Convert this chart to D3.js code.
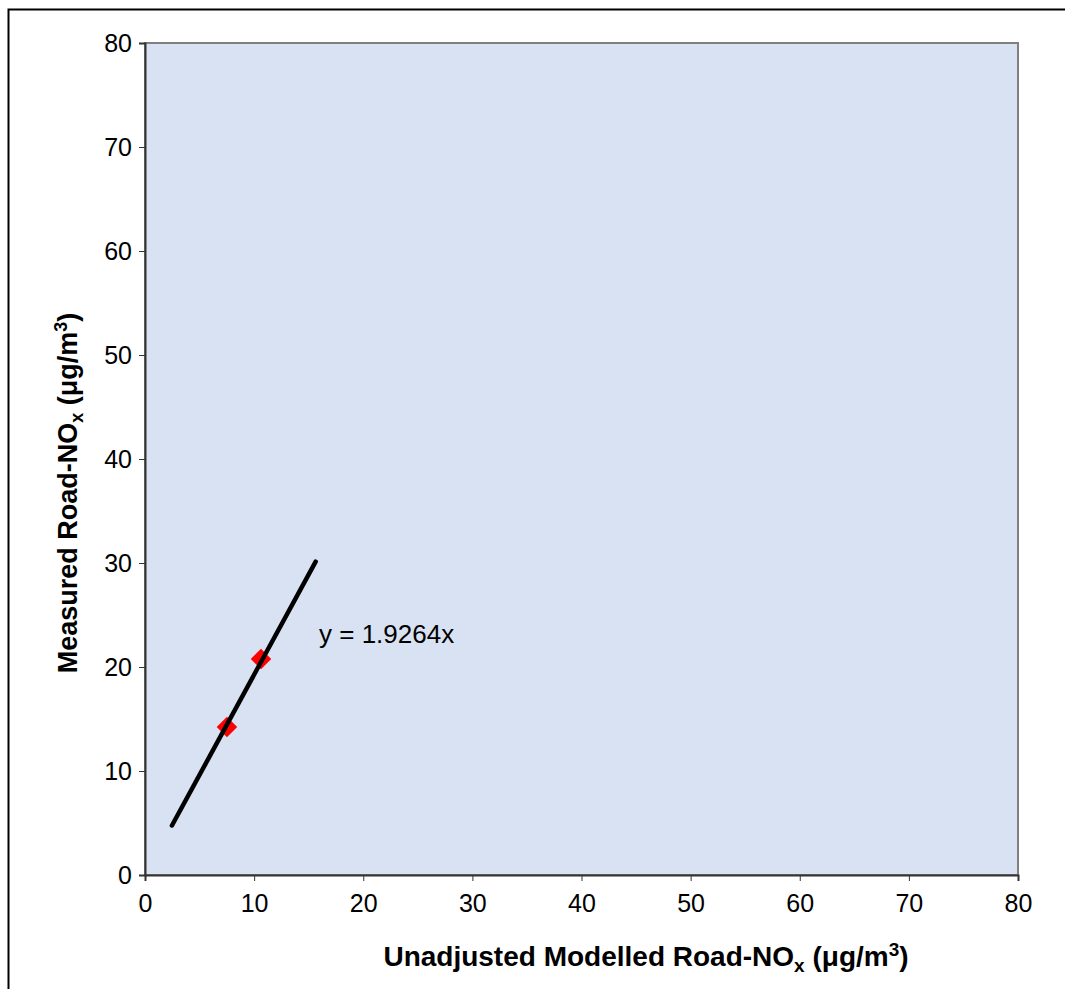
<!DOCTYPE html>
<meta charset="utf-8">
<head>
  <script src="https://d3js.org/d3.v7.min.js"></script>
  <style>
    body { margin: 0; background: #fff; }
    text { font-family: Arial, "Liberation Sans", sans-serif; fill: #000; }
  </style>
</head>
<body>
<div id="my_dataviz"></div>
<script>
// data
var xTicks = [0, 10, 20, 30, 40, 50, 60, 70, 80];
var yTicks = [0, 10, 20, 30, 40, 50, 60, 70, 80];
var measX = [7.51, 10.63];
var measY = [14.23, 20.77];
var slope = 1.9264;
var trendX = [2.47, 15.64];

var margin = {top: 43, left: 145},
    width = 873,
    height = 832;

var svg = d3.select("#my_dataviz")
  .append("svg")
    .attr("width", 1065)
    .attr("height", 989);

// outer chart border
svg.append("rect")
  .attr("x", 8.5).attr("y", 9.5)
  .attr("width", 1070).attr("height", 1000)
  .attr("fill", "none").attr("stroke", "#000").attr("stroke-width", 2);

var g = svg.append("g")
  .attr("transform", "translate(" + margin.left + "," + margin.top + ")");

var x = d3.scaleLinear().domain([0, 80]).range([0, width]);
var y = d3.scaleLinear().domain([0, 80]).range([height, 0]);

// plot area
g.append("rect")
  .attr("width", width).attr("height", height)
  .attr("fill", "#d9e2f3")
  .attr("stroke", "#808080").attr("stroke-width", 2);

// axes
var xAxis = g.append("g")
  .attr("transform", "translate(0," + height + ")")
  .call(d3.axisBottom(x).tickValues(xTicks).tickSize(6).tickPadding(13));
var yAxis = g.append("g")
  .call(d3.axisLeft(y).tickValues(yTicks).tickSize(6).tickPadding(7));

[xAxis, yAxis].forEach(function(a) {
  a.select(".domain").attr("stroke", "#333").attr("stroke-width", 2);
  a.selectAll(".tick line").attr("stroke", "#333");
  a.selectAll("text").style("font-size", "25px").attr("fill", "#000");
});

// points
g.selectAll("path.pt")
  .data(measX)
  .enter()
  .append("path")
  .attr("class", "pt")
  .attr("d", d3.symbol().type(d3.symbolSquare).size(210))
  .attr("transform", function(d, i) {
    return "translate(" + x(d) + "," + y(measY[i]) + ") rotate(45)";
  })
  .attr("fill", "#ff0000");

// trendline, drawn over the markers
g.append("line")
  .attr("x1", x(trendX[0])).attr("y1", y(trendX[0] * slope))
  .attr("x2", x(trendX[1])).attr("y2", y(trendX[1] * slope))
  .attr("stroke", "#000").attr("stroke-width", 4.5)
  .attr("stroke-linecap", "round");

// equation label
g.append("text")
  .attr("x", 174).attr("y", 600)
  .style("font-size", "26px")
  .text("y = " + slope + "x");

// axis titles
var xt = svg.append("text")
  .attr("x", 646).attr("y", 966)
  .attr("text-anchor", "middle")
  .style("font-size", "28px").style("font-weight", "bold");
xt.append("tspan").text("Unadjusted Modelled Road-NO");
xt.append("tspan").attr("dy", 6).style("font-size", "19px").text("x");
xt.append("tspan").attr("dy", -6).text(" (\u03bcg/m");
xt.append("tspan").attr("dy", -10).style("font-size", "19px").text("3");
xt.append("tspan").attr("dy", 10).text(")");

var yt = svg.append("text")
  .attr("transform", "translate(77,493) rotate(-90)")
  .attr("text-anchor", "middle")
  .style("font-size", "27px").style("font-weight", "bold");
yt.append("tspan").text("Measured Road-NO");
yt.append("tspan").attr("dy", 6).style("font-size", "18px").text("x");
yt.append("tspan").attr("dy", -6).text(" (\u03bcg/m");
yt.append("tspan").attr("dy", -10).style("font-size", "18px").text("3");
yt.append("tspan").attr("dy", 10).text(")");
</script>
</body>
